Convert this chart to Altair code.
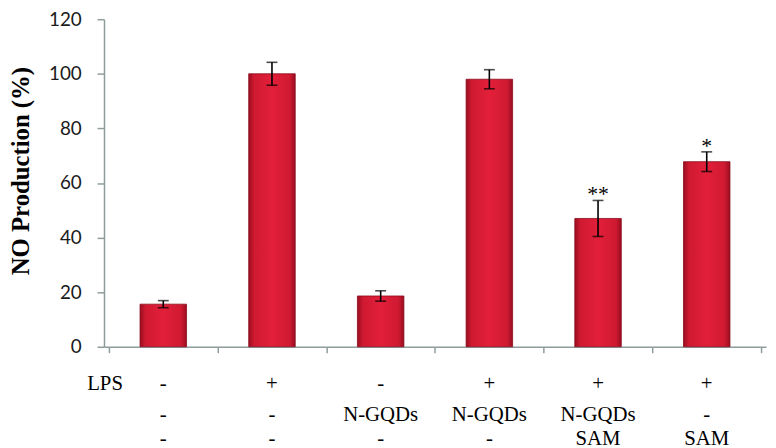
import altair as alt
import pandas as pd

# ---- data ----
groups = [1, 2, 3, 4, 5, 6]
values = [15.6, 100.0, 18.6, 98.0, 47.0, 67.8]
errors = [1.3, 4.2, 1.9, 3.5, 6.6, 3.6]
lps_row = ["-", "+", "-", "+", "+", "+"]
ngqd_row = ["-", "-", "N-GQDs", "N-GQDs", "N-GQDs", "-"]
sam_row = ["-", "-", "-", "-", "SAM", "SAM"]
signif = ["", "", "", "", "**", "*"]
y_ticks = [0, 20, 40, 60, 80, 100, 120]
x_bounds = [0, 1, 2, 3, 4, 5, 6]

df = pd.DataFrame({
    "group": groups,
    "pos": [g - 0.5 for g in groups],
    "value": values,
    "err": errors,
    "lps": lps_row,
    "ngqd": ngqd_row,
    "sam": sam_row,
    "sig": signif,
})
df["lo"] = df["value"] - df["err"]
df["hi"] = df["value"] + df["err"]

AXIS_GRAY = "#8E9C9C"
SERIF = "Liberation Serif"

PLOT_H = 331

x_scale = alt.Scale(domain=[0, 6], nice=False, zero=False)
y_scale = alt.Scale(domain=[0, 120], nice=False)

x_enc = alt.X(
    "pos:Q", scale=x_scale,
    axis=alt.Axis(values=x_bounds, labels=False, title=None, grid=False,
                  domainColor=AXIS_GRAY, domainWidth=1.5, tickColor=AXIS_GRAY,
                  tickSize=6, tickWidth=1.5),
)
y_enc = alt.Y(
    "value:Q", scale=y_scale,
    axis=alt.Axis(values=y_ticks, grid=False, title="NO Production (%)",
                  titleFont=SERIF, titleFontSize=25, titleFontWeight="bold",
                  titleColor="#000", titleX=-71, titleY=153, titleAngle=-90,
                  titleBaseline="bottom", titleAlign="center",
                  labelFont="Lato", labelFontSize=19, labelColor="#1a1a1a",
                  labelPadding=16, domainColor=AXIS_GRAY, domainWidth=1.5,
                  tickColor=AXIS_GRAY, tickSize=7, tickWidth=1.5),
)

gradient = alt.Gradient(
    gradient="linear",
    stops=[
        alt.GradientStop(color="#9a0d20", offset=0),
        alt.GradientStop(color="#cf1a31", offset=0.12),
        alt.GradientStop(color="#e31f3a", offset=0.5),
        alt.GradientStop(color="#cf1a31", offset=0.88),
        alt.GradientStop(color="#9a0d20", offset=1),
    ],
    x1=0, x2=1, y1=0, y2=0,
)

base = alt.Chart(df)

bars = base.mark_bar(size=47, color=gradient, stroke="#8a0b1c", strokeWidth=0.8).encode(
    x=x_enc, y=y_enc
)

err_rule = base.mark_rule(color="black", strokeWidth=1.6).encode(
    x="pos:Q", y="lo:Q", y2="hi:Q"
)
cap_lo = base.mark_tick(color="black", orient="horizontal", size=11, thickness=1.6).encode(
    x="pos:Q", y="lo:Q"
)
cap_hi = base.mark_tick(color="black", orient="horizontal", size=11, thickness=1.6).encode(
    x="pos:Q", y="hi:Q"
)

stars = base.mark_text(font=SERIF, fontSize=22, baseline="middle", dy=-6, color="#000").encode(
    x="pos:Q", y="hi:Q", text="sig:N"
)

row_style = dict(font=SERIF, fontSize=21, color="#000", baseline="middle", align="center")
row1 = base.mark_text(**row_style).encode(x="pos:Q", y=alt.value(PLOT_H + 38), text="lps:N")
row2 = base.mark_text(**row_style).encode(x="pos:Q", y=alt.value(PLOT_H + 69), text="ngqd:N")
row3 = base.mark_text(**row_style).encode(x="pos:Q", y=alt.value(PLOT_H + 93), text="sam:N")

lps_label = alt.Chart(pd.DataFrame({"t": ["LPS"]})).mark_text(
    font=SERIF, fontSize=21, color="#000", baseline="middle", align="left"
).encode(x=alt.value(-17), y=alt.value(PLOT_H + 38), text="t:N")

chart = alt.layer(
    bars, err_rule, cap_lo, cap_hi, stars, row1, row2, row3, lps_label
).properties(
    width=669, height=PLOT_H,
    padding={"left": 97, "top": 9, "right": 2, "bottom": 100},
    autosize="none",
).configure_view(stroke=None)

chart.save("out.html", embed_options={"renderer": "svg", "actions": False})
